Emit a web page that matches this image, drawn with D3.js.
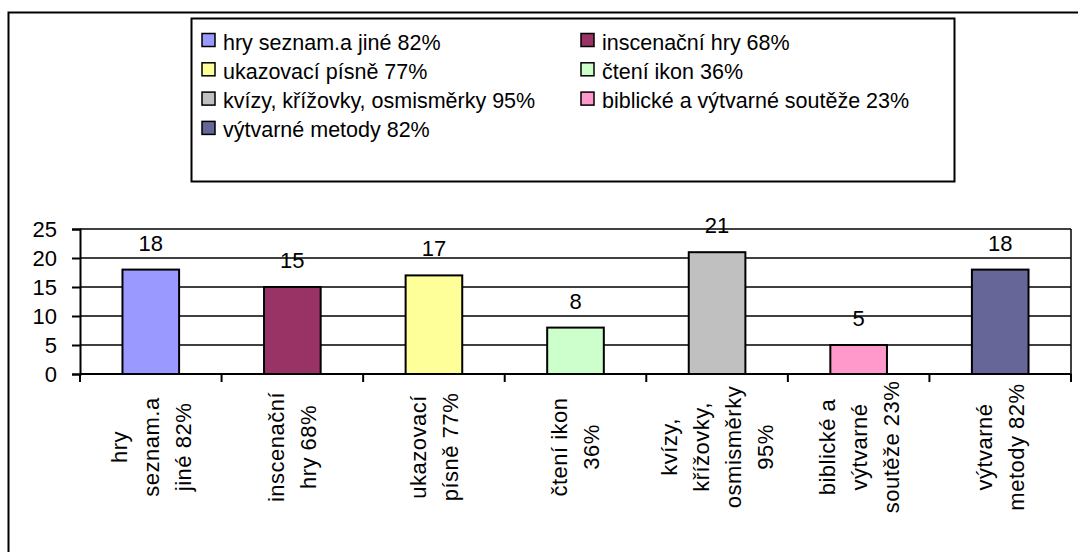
<!DOCTYPE html>
<html>
<head>
<meta charset="utf-8">
<script src="https://cdn.jsdelivr.net/npm/d3@7"></script>
<style>
  body { margin: 0; background: #fff; }
  text { font-family: "Liberation Sans", Arial, sans-serif; fill: #000; }
</style>
</head>
<body>
<div id="graf"></div>
<script>
const kategorie = ["hry seznam.a jiné 82%", "inscenační hry 68%", "ukazovací písně 77%",
  "čtení ikon 36%", "kvízy, křížovky, osmisměrky 95%", "biblické a výtvarné soutěže 23%",
  "výtvarné metody 82%"];
const popisky = [["hry", "seznam.a", "jiné 82%"], ["inscenační", "hry 68%"], ["ukazovací", "písně 77%"],
  ["čtení ikon", "36%"], ["kvízy,", "křížovky,", "osmisměrky", "95%"], ["biblické a", "výtvarné", "soutěže 23%"],
  ["výtvarné", "metody 82%"]];
const hodnoty = [18, 15, 17, 8, 21, 5, 18];
const barvy = ["#9999FF", "#993366", "#FFFF99", "#CCFFCC", "#C0C0C0", "#FF99CC", "#666699"];
const osaY = [0, 5, 10, 15, 20, 25];

const šířka = 1078, výška = 552;
const plocha = {vlevo: 80, vpravo: 1071, nahoře: 229, dole: 374};

const svg = d3.select("#graf")
  .append("svg")
  .attr("width", šířka)
  .attr("height", výška);

// rámeček celého grafu
svg.append("rect")
  .attr("x", 8.5).attr("y", 12.5)
  .attr("width", 1090).attr("height", 570)
  .attr("fill", "none").attr("stroke", "#000").attr("stroke-width", 2);

const x = d3.scaleBand()
  .domain(kategorie)
  .range([plocha.vlevo, plocha.vpravo])
  .paddingInner(0.6)
  .paddingOuter(0.3);
const y = d3.scaleLinear()
  .domain([0, 25])
  .range([plocha.dole, plocha.nahoře]);

// mřížka
svg.append("g")
  .selectAll("line")
  .data(osaY.slice(1))
  .join("line")
    .attr("x1", plocha.vlevo).attr("x2", plocha.vpravo)
    .attr("y1", d => y(d)).attr("y2", d => y(d))
    .attr("stroke", "#000").attr("stroke-width", 1.5);

// pravý okraj plochy
svg.append("line")
  .attr("x1", plocha.vpravo).attr("x2", plocha.vpravo)
  .attr("y1", y(25)).attr("y2", y(0))
  .attr("stroke", "#000").attr("stroke-width", 1.5);

// sloupce
svg.append("g")
  .selectAll("rect")
  .data(hodnoty)
  .join("rect")
    .attr("x", (d, i) => x(kategorie[i]))
    .attr("y", d => y(d))
    .attr("width", x.bandwidth())
    .attr("height", d => y(0) - y(d))
    .attr("fill", (d, i) => barvy[i])
    .attr("stroke", "#000").attr("stroke-width", 2);

// hodnoty nad sloupci
svg.append("g")
  .selectAll("text")
  .data(hodnoty)
  .join("text")
    .attr("x", (d, i) => x(kategorie[i]) + x.bandwidth() / 2)
    .attr("y", d => y(d) - 19)
    .attr("text-anchor", "middle")
    .attr("font-size", 22)
    .text(d => d);

// osa Y
const osa = svg.append("g")
  .attr("transform", `translate(${plocha.vlevo},0)`)
  .call(d3.axisLeft(y).tickValues(osaY).tickSize(8).tickPadding(15));
osa.select(".domain").attr("stroke", "#000").attr("stroke-width", 2);
osa.selectAll(".tick line").attr("stroke", "#000").attr("stroke-width", 2);
osa.selectAll(".tick text")
  .attr("font-size", 22)
  .attr("font-family", "Liberation Sans, Arial, sans-serif")
  .attr("fill", "#000");

// osa X
svg.append("line")
  .attr("x1", plocha.vlevo).attr("x2", plocha.vpravo)
  .attr("y1", y(0)).attr("y2", y(0))
  .attr("stroke", "#000").attr("stroke-width", 2);
const hranice = kategorie.map(k => x(k) - x.step() * x.paddingOuter());
hranice.push(plocha.vpravo);
svg.append("g")
  .selectAll("line")
  .data(hranice)
  .join("line")
    .attr("x1", d => d).attr("x2", d => d)
    .attr("y1", y(0)).attr("y2", y(0) + 8)
    .attr("stroke", "#000").attr("stroke-width", 2);

// svislé popisky kategorií
const řádek = 32;
const popisek = svg.append("g")
  .selectAll("g")
  .data(popisky)
  .join("g")
    .attr("transform", (d, i) => `translate(${x(kategorie[i]) + x.bandwidth() / 2},447) rotate(-90)`);
popisek.selectAll("text")
  .data(d => d.map((t, j) => ({t: t, j: j, n: d.length})))
  .join("text")
    .attr("x", 0)
    .attr("y", d => (d.j - (d.n - 1) / 2) * řádek)
    .attr("dy", "0.36em")
    .attr("text-anchor", "middle")
    .attr("font-size", 22)
    .attr("letter-spacing", 0.5)
    .text(d => d.t);

// legenda
const legenda = svg.append("g");
legenda.append("rect")
  .attr("x", 191.5).attr("y", 18.5)
  .attr("width", 763).attr("height", 163)
  .attr("fill", "#fff").attr("stroke", "#000").attr("stroke-width", 2);
const sloupceLeg = [202, 581];
const položka = legenda.selectAll("g.polozka")
  .data(kategorie)
  .join("g")
    .attr("class", "polozka")
    .attr("transform", (d, i) => `translate(${sloupceLeg[i % 2]},${49.5 + Math.floor(i / 2) * 29.3})`);
položka.append("rect")
  .attr("x", 0).attr("y", -16)
  .attr("width", 13).attr("height", 13)
  .attr("fill", (d, i) => barvy[i])
  .attr("stroke", "#000").attr("stroke-width", 1.5);
položka.append("text")
  .attr("x", 21).attr("y", 0)
  .attr("font-size", 21.5)
  .text(d => d);
</script>
</body>
</html>
